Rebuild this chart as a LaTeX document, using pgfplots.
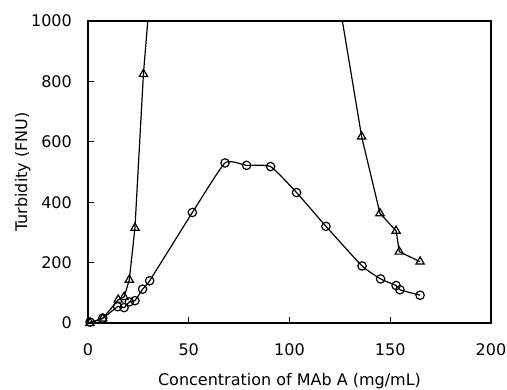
\documentclass[border=0pt]{standalone}
\usepackage{pgfplots}
\pgfplotsset{compat=1.18}
\usepackage{fontspec}
\setmainfont{DejaVu Sans}
\begin{document}
\begin{tikzpicture}[font=\fontsize{16bp}{19bp}\selectfont]
\path[use as bounding box] (0,0) rectangle (507bp,390bp);
\begin{axis}[
  at={(88bp,67bp)}, anchor=south west,
  scale only axis, width=403bp, height=302bp,
  xmin=0, xmax=200, ymin=0, ymax=1000,
  xtick={0,50,100,150,200}, ytick={0,200,400,600,800,1000},
  /pgf/number format/assume math mode=true,
  /pgf/number format/1000 sep={},
  tick align=inside, xtick pos=bottom, ytick pos=left,
  major tick length=6bp,
  axis line style={line width=1.3bp},
  tick style={line width=1bp, black},
  xticklabel style={anchor=base, inner sep=0pt, yshift=-32bp},
  yticklabel style={anchor=east, inner sep=0pt, xshift=-16bp},
  xlabel={Concentration of MAb A (mg/mL)},
  ylabel={Turbidity (FNU)},
  xlabel style={at={(axis description cs:0.5,-0.2086)}, anchor=base, inner sep=0pt},
  ylabel style={at={(axis description cs:-0.151,0.5)}, anchor=base, inner sep=0pt},
  clip=true,
]
\addplot[black, line width=1.2bp, smooth, tension=0.3, mark=o, mark size=4.2bp, mark options={fill=white, line width=1.2bp}] coordinates {
(1,3) (7.3,16) (14.7,54) (17.9,51) (20.5,70) (23.3,74) (27.1,112) (30.6,140)
(51.8,366) (68,530) (78.7,522) (90.6,518) (103.5,432) (118.1,320) (136,189)
(145.2,146) (152.9,124) (154.8,110) (164.8,92)
};
\addplot[black, line width=1.2bp, mark=triangle, mark size=4.8bp, mark options={fill=white, line width=1.2bp}] coordinates {
(1,0) (7.3,15) (15,77) (17.9,86) (20.5,143) (23.3,315) (27.5,824)
(31.5,1150) (122,1170)
(135.8,617) (144.9,363) (152.9,305) (154.5,236) (164.8,203)
};
\end{axis}
\end{tikzpicture}
\end{document}
